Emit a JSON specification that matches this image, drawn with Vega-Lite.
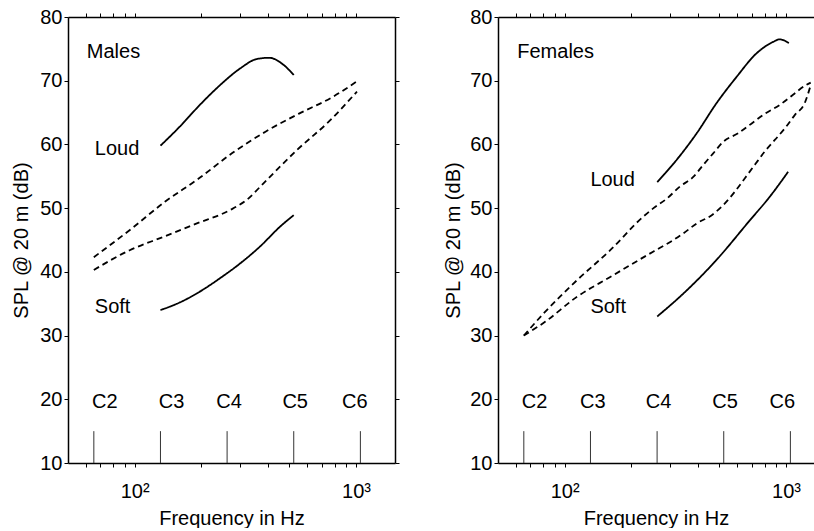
{
  "$schema": "https://vega.github.io/schema/vega-lite/v6.json",
  "padding": {"left": 11, "top": 7, "right": 0, "bottom": 0},
  "background": "white",
  "spacing": 43,
  "datasets": {
    "mlines": [
      {"s": "loud", "d": "solid", "f": 130.8, "v": 59.8},
      {"s": "loud", "d": "solid", "f": 160, "v": 62.8},
      {"s": "loud", "d": "solid", "f": 197, "v": 66.2},
      {"s": "loud", "d": "solid", "f": 243, "v": 69.3},
      {"s": "loud", "d": "solid", "f": 299, "v": 71.9},
      {"s": "loud", "d": "solid", "f": 356, "v": 73.4},
      {"s": "loud", "d": "solid", "f": 405, "v": 73.6},
      {"s": "loud", "d": "solid", "f": 470, "v": 72.5},
      {"s": "loud", "d": "solid", "f": 523, "v": 70.9},
      {"s": "upper", "d": "dashed", "f": 65.4, "v": 42.3},
      {"s": "upper", "d": "dashed", "f": 97, "v": 46.8},
      {"s": "upper", "d": "dashed", "f": 137, "v": 51.0},
      {"s": "upper", "d": "dashed", "f": 194, "v": 54.6},
      {"s": "upper", "d": "dashed", "f": 275, "v": 58.6},
      {"s": "upper", "d": "dashed", "f": 390, "v": 62.0},
      {"s": "upper", "d": "dashed", "f": 550, "v": 64.8},
      {"s": "upper", "d": "dashed", "f": 780, "v": 67.4},
      {"s": "upper", "d": "dashed", "f": 1010, "v": 69.9},
      {"s": "lower", "d": "dashed", "f": 65.4, "v": 40.3},
      {"s": "lower", "d": "dashed", "f": 95, "v": 43.4},
      {"s": "lower", "d": "dashed", "f": 135, "v": 45.5},
      {"s": "lower", "d": "dashed", "f": 191, "v": 47.6},
      {"s": "lower", "d": "dashed", "f": 270, "v": 49.7},
      {"s": "lower", "d": "dashed", "f": 321, "v": 51.3},
      {"s": "lower", "d": "dashed", "f": 382, "v": 53.9},
      {"s": "lower", "d": "dashed", "f": 540, "v": 59.1},
      {"s": "lower", "d": "dashed", "f": 765, "v": 63.8},
      {"s": "lower", "d": "dashed", "f": 1010, "v": 68.3},
      {"s": "soft", "d": "solid", "f": 130.8, "v": 34.0},
      {"s": "soft", "d": "solid", "f": 160, "v": 35.2},
      {"s": "soft", "d": "solid", "f": 197, "v": 36.9},
      {"s": "soft", "d": "solid", "f": 243, "v": 39.0},
      {"s": "soft", "d": "solid", "f": 299, "v": 41.3},
      {"s": "soft", "d": "solid", "f": 369, "v": 44.0},
      {"s": "soft", "d": "solid", "f": 454, "v": 47.1},
      {"s": "soft", "d": "solid", "f": 523, "v": 48.9}
    ],
    "flines": [
      {"s": "loud", "d": "solid", "f": 262, "v": 54.1},
      {"s": "loud", "d": "solid", "f": 321, "v": 57.6},
      {"s": "loud", "d": "solid", "f": 395, "v": 61.75},
      {"s": "loud", "d": "solid", "f": 486, "v": 66.5},
      {"s": "loud", "d": "solid", "f": 598, "v": 70.6},
      {"s": "loud", "d": "solid", "f": 736, "v": 74.3},
      {"s": "loud", "d": "solid", "f": 875, "v": 76.1},
      {"s": "loud", "d": "solid", "f": 937, "v": 76.5},
      {"s": "loud", "d": "solid", "f": 1030, "v": 75.9},
      {"s": "upper", "d": "dashed", "f": 65.4, "v": 30.0},
      {"s": "upper", "d": "dashed", "f": 80.5, "v": 33.5},
      {"s": "upper", "d": "dashed", "f": 113.8, "v": 38.7},
      {"s": "upper", "d": "dashed", "f": 160.7, "v": 43.4},
      {"s": "upper", "d": "dashed", "f": 227, "v": 48.7},
      {"s": "upper", "d": "dashed", "f": 252, "v": 50.0},
      {"s": "upper", "d": "dashed", "f": 289.5, "v": 51.5},
      {"s": "upper", "d": "dashed", "f": 332, "v": 53.4},
      {"s": "upper", "d": "dashed", "f": 381, "v": 54.9},
      {"s": "upper", "d": "dashed", "f": 423, "v": 56.8},
      {"s": "upper", "d": "dashed", "f": 469, "v": 58.6},
      {"s": "upper", "d": "dashed", "f": 520, "v": 60.4},
      {"s": "upper", "d": "dashed", "f": 608, "v": 61.75},
      {"s": "upper", "d": "dashed", "f": 700, "v": 63.3},
      {"s": "upper", "d": "dashed", "f": 802, "v": 64.8},
      {"s": "upper", "d": "dashed", "f": 937, "v": 66.2},
      {"s": "upper", "d": "dashed", "f": 1076, "v": 67.8},
      {"s": "upper", "d": "dashed", "f": 1228, "v": 69.3},
      {"s": "upper", "d": "dashed", "f": 1293, "v": 69.7},
      {"s": "lower", "d": "dashed", "f": 65.4, "v": 30.0},
      {"s": "lower", "d": "dashed", "f": 81.9, "v": 32.2},
      {"s": "lower", "d": "dashed", "f": 113.8, "v": 36.1},
      {"s": "lower", "d": "dashed", "f": 160.7, "v": 39.2},
      {"s": "lower", "d": "dashed", "f": 252, "v": 43.2},
      {"s": "lower", "d": "dashed", "f": 300, "v": 44.7},
      {"s": "lower", "d": "dashed", "f": 344, "v": 46.05},
      {"s": "lower", "d": "dashed", "f": 395, "v": 47.6},
      {"s": "lower", "d": "dashed", "f": 462, "v": 48.9},
      {"s": "lower", "d": "dashed", "f": 521, "v": 50.5},
      {"s": "lower", "d": "dashed", "f": 588, "v": 52.6},
      {"s": "lower", "d": "dashed", "f": 652, "v": 54.7},
      {"s": "lower", "d": "dashed", "f": 723, "v": 56.8},
      {"s": "lower", "d": "dashed", "f": 802, "v": 58.9},
      {"s": "lower", "d": "dashed", "f": 890, "v": 60.7},
      {"s": "lower", "d": "dashed", "f": 987, "v": 62.5},
      {"s": "lower", "d": "dashed", "f": 1095, "v": 64.6},
      {"s": "lower", "d": "dashed", "f": 1215, "v": 66.5},
      {"s": "lower", "d": "dashed", "f": 1293, "v": 69.3},
      {"s": "soft", "d": "solid", "f": 262, "v": 33.0},
      {"s": "soft", "d": "solid", "f": 344, "v": 36.6},
      {"s": "soft", "d": "solid", "f": 486, "v": 41.9},
      {"s": "soft", "d": "solid", "f": 687, "v": 48.1},
      {"s": "soft", "d": "solid", "f": 845, "v": 51.8},
      {"s": "soft", "d": "solid", "f": 1022, "v": 55.7}
    ],
    "notes": [
      {"n": "C2", "f": 65.41, "v0": 10, "v1": 15},
      {"n": "C3", "f": 130.81, "v0": 10, "v1": 15},
      {"n": "C4", "f": 261.63, "v0": 10, "v1": 15},
      {"n": "C5", "f": 523.25, "v0": 10, "v1": 15},
      {"n": "C6", "f": 1046.5, "v0": 10, "v1": 15}
    ],
    "mnotelabels": [
      {"n": "C2", "f": 73.3, "v": 18.6},
      {"n": "C3", "f": 146.7, "v": 18.6},
      {"n": "C4", "f": 267, "v": 18.6},
      {"n": "C5", "f": 531, "v": 18.6},
      {"n": "C6", "f": 987, "v": 18.6}
    ],
    "fnotelabels": [
      {"n": "C2", "f": 73.1, "v": 18.6},
      {"n": "C3", "f": 134, "v": 18.6},
      {"n": "C4", "f": 265.4, "v": 18.6},
      {"n": "C5", "f": 530, "v": 18.6},
      {"n": "C6", "f": 962, "v": 18.6}
    ],
    "mlabels": [
      {"t": "Males", "f": 60.8, "v": 73.5},
      {"t": "Loud", "f": 66.1, "v": 58.3},
      {"t": "Soft", "f": 66.1, "v": 33.5}
    ],
    "flabels": [
      {"t": "Females", "f": 61.1, "v": 73.5},
      {"t": "Loud", "f": 130.7, "v": 53.4},
      {"t": "Soft", "f": 130.7, "v": 33.5}
    ]
  },
  "hconcat": [
    {
      "width": 327,
      "height": 446,
      "layer": [
        {
          "data": {"name": "mlines"},
          "mark": {"type": "line", "interpolate": "monotone", "color": "black", "strokeWidth": 1.8, "clip": true},
          "encoding": {
            "x": {"field": "f", "type": "quantitative", "scale": {"type": "log", "domain": [50, 1500], "nice": false},
              "axis": {"orient": "bottom", "values": [60, 70, 80, 90, 100, 200, 300, 400, 500, 600, 700, 800, 900, 1000],
                "labelExpr": "datum.value == 100 ? '10²' : datum.value == 1000 ? '10³' : ''", "title": "Frequency in Hz", "labelPadding": 14, "titlePadding": 7,
                "encode": {"ticks": {"update": {"y2": {"value": -4}}}}}},
            "y": {"field": "v", "type": "quantitative", "scale": {"domain": [10, 80], "nice": false, "zero": false},
              "axis": {"orient": "left", "values": [10, 20, 30, 40, 50, 60, 70, 80], "title": "SPL @ 20 m (dB)", "labelPadding": 2, "titlePadding": 8,
                "encode": {"ticks": {"update": {"x2": {"value": 4}}}}}},
            "detail": {"field": "s"},
            "strokeDash": {"field": "d", "type": "nominal", "scale": {"domain": ["solid", "dashed"], "range": [[1, 0], [6, 4]]}, "legend": null}
          }
        },
        {
          "data": {"name": "notes"},
          "mark": {"type": "rule", "color": "#333", "strokeWidth": 1},
          "encoding": {
            "x": {"field": "f", "type": "quantitative", "scale": {"type": "log", "domain": [50, 1500], "nice": false},
              "axis": {"orient": "top", "values": [60, 70, 80, 90, 100, 200, 300, 400, 500, 600, 700, 800, 900, 1000], "labels": false, "title": null,
                "encode": {"ticks": {"update": {"y2": {"value": 4}}}}}},
            "y": {"field": "v0", "type": "quantitative", "scale": {"domain": [10, 80], "nice": false, "zero": false},
              "axis": {"orient": "right", "values": [10, 20, 30, 40, 50, 60, 70, 80], "labels": false, "title": null,
                "encode": {"ticks": {"update": {"x2": {"value": -4}}}}}},
            "y2": {"field": "v1"}
          }
        },
        {
          "data": {"name": "mnotelabels"},
          "mark": {"type": "text", "font": "Liberation Sans", "fontSize": 20, "align": "center", "baseline": "alphabetic", "color": "black"},
          "encoding": {
            "x": {"field": "f", "type": "quantitative", "scale": {"type": "log", "domain": [50, 1500], "nice": false}, "axis": null},
            "y": {"field": "v", "type": "quantitative", "scale": {"domain": [10, 80], "nice": false, "zero": false}, "axis": null},
            "text": {"field": "n"}
          }
        },
        {
          "data": {"name": "mlabels"},
          "mark": {"type": "text", "font": "Liberation Sans", "fontSize": 20, "align": "left", "baseline": "alphabetic", "color": "black"},
          "encoding": {
            "x": {"field": "f", "type": "quantitative", "scale": {"type": "log", "domain": [50, 1500], "nice": false}, "axis": null},
            "y": {"field": "v", "type": "quantitative", "scale": {"domain": [10, 80], "nice": false, "zero": false}, "axis": null},
            "text": {"field": "t"}
          }
        }
      ],
      "resolve": {"axis": {"x": "independent", "y": "independent"}}
    },
    {
      "width": 316,
      "height": 446,
      "layer": [
        {
          "data": {"name": "flines"},
          "mark": {"type": "line", "interpolate": "monotone", "color": "black", "strokeWidth": 1.8, "clip": true},
          "encoding": {
            "x": {"field": "f", "type": "quantitative", "scale": {"type": "log", "domain": [50, 1338], "nice": false},
              "axis": {"orient": "bottom", "values": [60, 70, 80, 90, 100, 200, 300, 400, 500, 600, 700, 800, 900, 1000],
                "labelExpr": "datum.value == 100 ? '10²' : datum.value == 1000 ? '10³' : ''", "title": "Frequency in Hz", "labelPadding": 14, "titlePadding": 7,
                "encode": {"ticks": {"update": {"y2": {"value": -4}}}}}},
            "y": {"field": "v", "type": "quantitative", "scale": {"domain": [10, 80], "nice": false, "zero": false},
              "axis": {"orient": "left", "values": [10, 20, 30, 40, 50, 60, 70, 80], "title": "SPL @ 20 m (dB)", "labelPadding": 2, "titlePadding": 6,
                "encode": {"ticks": {"update": {"x2": {"value": 4}}}}}},
            "detail": {"field": "s"},
            "strokeDash": {"field": "d", "type": "nominal", "scale": {"domain": ["solid", "dashed"], "range": [[1, 0], [6, 4]]}, "legend": null}
          }
        },
        {
          "data": {"name": "notes"},
          "mark": {"type": "rule", "color": "#333", "strokeWidth": 1},
          "encoding": {
            "x": {"field": "f", "type": "quantitative", "scale": {"type": "log", "domain": [50, 1338], "nice": false},
              "axis": {"orient": "top", "values": [60, 70, 80, 90, 100, 200, 300, 400, 500, 600, 700, 800, 900, 1000], "labels": false, "title": null,
                "encode": {"ticks": {"update": {"y2": {"value": 4}}}}}},
            "y": {"field": "v0", "type": "quantitative", "scale": {"domain": [10, 80], "nice": false, "zero": false}, "axis": null},
            "y2": {"field": "v1"}
          }
        },
        {
          "data": {"name": "fnotelabels"},
          "mark": {"type": "text", "font": "Liberation Sans", "fontSize": 20, "align": "center", "baseline": "alphabetic", "color": "black"},
          "encoding": {
            "x": {"field": "f", "type": "quantitative", "scale": {"type": "log", "domain": [50, 1338], "nice": false}, "axis": null},
            "y": {"field": "v", "type": "quantitative", "scale": {"domain": [10, 80], "nice": false, "zero": false}, "axis": null},
            "text": {"field": "n"}
          }
        },
        {
          "data": {"name": "flabels"},
          "mark": {"type": "text", "font": "Liberation Sans", "fontSize": 20, "align": "left", "baseline": "alphabetic", "color": "black"},
          "encoding": {
            "x": {"field": "f", "type": "quantitative", "scale": {"type": "log", "domain": [50, 1338], "nice": false}, "axis": null},
            "y": {"field": "v", "type": "quantitative", "scale": {"domain": [10, 80], "nice": false, "zero": false}, "axis": null},
            "text": {"field": "t"}
          }
        }
      ],
      "resolve": {"axis": {"x": "independent", "y": "independent"}}
    }
  ],
  "config": {
    "view": {"stroke": null},
    "axis": {
      "grid": false,
      "domainColor": "black",
      "domainWidth": 1.5,
      "tickColor": "black",
      "tickSize": 4,
      "tickWidth": 1,
      "labelColor": "black",
      "titleColor": "black",
      "labelFont": "Liberation Sans",
      "titleFont": "Liberation Sans",
      "labelFontSize": 20,
      "titleFontSize": 20,
      "titleFontWeight": "normal",
      "labelOverlap": false
    }
  }
}
